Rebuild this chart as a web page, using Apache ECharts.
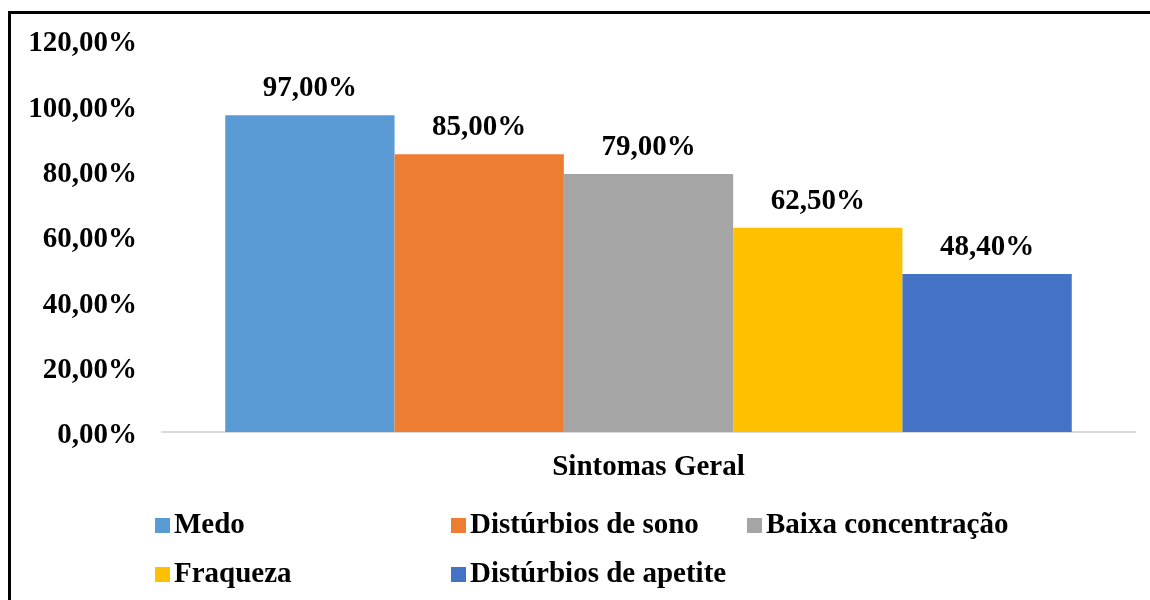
<!DOCTYPE html>
<html>
<head>
<meta charset="utf-8">
<script src="https://cdn.jsdelivr.net/npm/echarts@6/dist/echarts.min.js"></script>
<style>
  html, body { margin: 0; padding: 0; background: #fff; overflow: hidden; }
  #main { width: 1150px; height: 600px; }
</style>
</head>
<body>
<div id="main"></div>
<script>
// dados do gráfico
var categories = ['Sintomas Geral'];
var seriesNames = ['Medo', 'Distúrbios de sono', 'Baixa concentração', 'Fraqueza', 'Distúrbios de apetite'];
var seriesValues = [97.0, 85.0, 79.0, 62.5, 48.4];
var colors = ['#5b9bd5', '#ed7d31', '#a5a5a5', '#ffc000', '#4472c4'];

var font = 'Liberation Serif, Times New Roman, serif';

function pct(v) {
  return v.toFixed(2).replace('.', ',') + '%';
}

var chart = echarts.init(document.getElementById('main'));

var series = seriesNames.map(function (name, i) {
  return {
    name: name,
    type: 'bar',
    barGap: '0%',
    barCategoryGap: '13%',
    itemStyle: { color: colors[i] },
    label: {
      show: true,
      position: 'top',
      distance: 12,
      color: '#000',
      fontFamily: font,
      fontWeight: 'bold',
      fontSize: 29,
      formatter: function (p) { return pct(p.value); }
    },
    data: [seriesValues[i]]
  };
});

// posições das legendas (2 linhas, 3 colunas)
var legendPos = [[150, 506], [446, 506], [742, 506], [150, 555], [446, 555]];
var legends = seriesNames.map(function (name, i) {
  return {
    data: [name],
    left: legendPos[i][0],
    top: legendPos[i][1],
    icon: 'rect',
    itemWidth: 15,
    itemHeight: 15,
    itemGap: 0,
    textStyle: {
      color: '#000',
      fontFamily: font,
      fontWeight: 'bold',
      fontSize: 29,
      padding: [0, 0, 0, -1]
    }
  };
});

var option = {
  animation: false,
  backgroundColor: '#fff',
  graphic: [{
    type: 'polyline',
    shape: { points: [[9.5, 700], [9.5, 12.5], [1300, 12.5]] },
    style: { fill: 'none', stroke: '#000', lineWidth: 3 },
    z: 100
  }],
  grid: { left: 162, right: 15, top: 40, bottom: 168 },
  legend: legends,
  xAxis: {
    type: 'category',
    data: categories,
    axisLine: { lineStyle: { color: '#d9d9d9', width: 2 } },
    axisTick: { show: false },
    axisLabel: {
      color: '#000',
      fontFamily: font,
      fontWeight: 'bold',
      fontSize: 29,
      margin: 21
    }
  },
  yAxis: {
    type: 'value',
    min: 0,
    max: 120,
    interval: 20,
    axisLine: { show: false },
    axisTick: { show: false },
    splitLine: { show: false },
    axisLabel: {
      margin: 25,
      formatter: function (v) { return '{a|' + pct(v) + '}'; },
      rich: {
        a: {
          color: '#000',
          fontFamily: font,
          fontWeight: 'bold',
          fontSize: 29,
          padding: [8, 0, 0, 0]
        }
      }
    }
  },
  series: series
};

chart.setOption(option);
</script>
</body>
</html>
